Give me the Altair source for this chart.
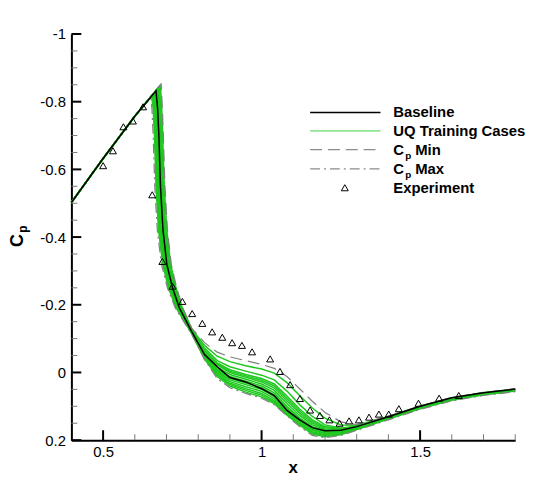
import altair as alt
import pandas as pd

# leading edge, shared by every case up to its suction peak
LE_X = [0.40, 0.50, 0.60]
LE_Y = [-0.502, -0.632, -0.757]

# shock: x of each case at these Cp levels
SHOCK_Y = [-0.78, -0.70, -0.55, -0.42, -0.32, -0.25, -0.19]
# recovery: Cp of each case at these x stations
POST_X = [0.78, 0.82, 0.86, 0.90, 0.95, 1.00, 1.04, 1.08, 1.12, 1.16, 1.20,
          1.25, 1.30, 1.40, 1.50, 1.60, 1.70, 1.80]

BASE_PEAK = (0.667, -0.832)
BASE_SHOCK_X = [0.672, 0.676, 0.681, 0.689, 0.701, 0.719, 0.741]
BASE_POST_Y = [-0.120, -0.053, -0.017, 0.015, 0.028, 0.048, 0.068, 0.112, 0.140,
               0.163, 0.172, 0.171, 0.160, 0.131, 0.100, 0.075, 0.060, 0.049]

CPMIN_PEAK = (0.683, -0.852)
CPMIN_SHOCK_X = [0.687, 0.690, 0.695, 0.703, 0.715, 0.732, 0.752]
CPMIN_POST_Y = [-0.130, -0.088, -0.060, -0.046, -0.035, -0.024, -0.012, 0.012, 0.048,
                0.085, 0.118, 0.146, 0.154, 0.129, 0.099, 0.074, 0.059, 0.048]

CPMAX_PEAK = (0.650, -0.813)
CPMAX_SHOCK_X = [0.654, 0.658, 0.663, 0.671, 0.684, 0.703, 0.728]
CPMAX_POST_Y = [-0.112, -0.038, 0.018, 0.045, 0.062, 0.076, 0.095, 0.128, 0.160,
                0.186, 0.193, 0.186, 0.171, 0.140, 0.109, 0.084, 0.068, 0.057]

# UQ training cases
GREEN_PEAK_X = [0.681, 0.678, 0.675, 0.673, 0.671, 0.668, 0.664, 0.663, 0.661,
                0.659, 0.657, 0.655, 0.653]
GREEN_PEAK_Y = [-0.849, -0.846, -0.842, -0.840, -0.838, -0.834, -0.830, -0.828,
                -0.826, -0.824, -0.821, -0.819, -0.817]
GREEN_SHOCK_X = [
    [0.685, 0.688, 0.693, 0.701, 0.713, 0.730, 0.750],
    [0.682, 0.685, 0.690, 0.698, 0.710, 0.727, 0.748],
    [0.679, 0.682, 0.687, 0.695, 0.707, 0.724, 0.746],
    [0.677, 0.681, 0.686, 0.694, 0.706, 0.723, 0.745],
    [0.675, 0.679, 0.684, 0.692, 0.704, 0.722, 0.744],
    [0.672, 0.676, 0.681, 0.689, 0.701, 0.719, 0.742],
    [0.669, 0.673, 0.678, 0.686, 0.698, 0.716, 0.739],
    [0.668, 0.672, 0.677, 0.685, 0.697, 0.715, 0.738],
    [0.666, 0.670, 0.675, 0.683, 0.695, 0.713, 0.737],
    [0.664, 0.668, 0.673, 0.681, 0.693, 0.712, 0.736],
    [0.662, 0.666, 0.671, 0.679, 0.691, 0.710, 0.734],
    [0.660, 0.664, 0.669, 0.677, 0.690, 0.708, 0.733],
    [0.658, 0.662, 0.667, 0.675, 0.688, 0.706, 0.731],
]
GREEN_POST_Y = [
    [-0.128, -0.080, -0.048, -0.032, -0.020, -0.010, 0.002, 0.030, 0.068, 0.105, 0.135, 0.155, 0.156, 0.130, 0.100, 0.075, 0.060, 0.049],
    [-0.126, -0.072, -0.035, -0.017, -0.004, 0.008, 0.022, 0.055, 0.095, 0.130, 0.155, 0.164, 0.159, 0.131, 0.101, 0.076, 0.061, 0.050],
    [-0.124, -0.066, -0.028, -0.008, 0.006, 0.018, 0.034, 0.070, 0.108, 0.140, 0.160, 0.166, 0.160, 0.131, 0.101, 0.076, 0.061, 0.050],
    [-0.123, -0.063, -0.025, -0.004, 0.010, 0.023, 0.040, 0.077, 0.114, 0.145, 0.163, 0.167, 0.160, 0.131, 0.101, 0.076, 0.061, 0.050],
    [-0.122, -0.060, -0.022, 0.000, 0.014, 0.028, 0.046, 0.084, 0.120, 0.150, 0.166, 0.168, 0.161, 0.132, 0.102, 0.077, 0.062, 0.051],
    [-0.121, -0.055, -0.016, 0.006, 0.020, 0.034, 0.053, 0.092, 0.127, 0.155, 0.169, 0.170, 0.162, 0.132, 0.102, 0.077, 0.062, 0.051],
    [-0.120, -0.050, -0.010, 0.012, 0.026, 0.040, 0.060, 0.100, 0.134, 0.160, 0.172, 0.172, 0.163, 0.133, 0.103, 0.078, 0.063, 0.052],
    [-0.119, -0.048, -0.007, 0.017, 0.031, 0.045, 0.066, 0.105, 0.138, 0.164, 0.175, 0.174, 0.164, 0.133, 0.103, 0.078, 0.063, 0.052],
    [-0.118, -0.046, -0.004, 0.022, 0.036, 0.050, 0.072, 0.110, 0.143, 0.168, 0.178, 0.176, 0.165, 0.134, 0.104, 0.079, 0.064, 0.053],
    [-0.117, -0.044, 0.000, 0.027, 0.042, 0.056, 0.078, 0.115, 0.146, 0.171, 0.181, 0.178, 0.166, 0.135, 0.104, 0.079, 0.064, 0.053],
    [-0.116, -0.043, 0.004, 0.032, 0.048, 0.062, 0.084, 0.120, 0.150, 0.175, 0.184, 0.180, 0.167, 0.136, 0.105, 0.080, 0.065, 0.054],
    [-0.115, -0.041, 0.008, 0.036, 0.053, 0.067, 0.088, 0.123, 0.153, 0.178, 0.187, 0.182, 0.168, 0.137, 0.106, 0.081, 0.065, 0.054],
    [-0.114, -0.040, 0.012, 0.040, 0.058, 0.072, 0.092, 0.126, 0.156, 0.182, 0.190, 0.184, 0.169, 0.138, 0.107, 0.082, 0.066, 0.055],
]

EXP_X = [0.500, 0.531, 0.564, 0.594, 0.626, 0.655, 0.687, 0.719, 0.750, 0.781, 0.813,
         0.844, 0.876, 0.907, 0.938, 0.970, 1.027, 1.058, 1.090, 1.121, 1.153, 1.184,
         1.214, 1.246, 1.276, 1.307, 1.339, 1.370, 1.401, 1.433, 1.495, 1.560, 1.622]
EXP_Y = [-0.611, -0.655, -0.726, -0.743, -0.785, -0.525, -0.328, -0.255, -0.210, -0.174,
         -0.145, -0.120, -0.104, -0.088, -0.080, -0.061, -0.040, -0.003, 0.036, 0.077,
         0.111, 0.127, 0.140, 0.150, 0.143, 0.140, 0.132, 0.123, 0.123, 0.107, 0.091,
         0.076, 0.068]

X_MAJOR = [0.5, 1.0, 1.5]
X_MINOR = [0.6, 0.7, 0.8, 0.9, 1.1, 1.2, 1.3, 1.4, 1.6, 1.7, 1.8]
Y_MAJOR = [-1.0, -0.8, -0.6, -0.4, -0.2, 0.0, 0.2]
Y_MINOR = [-0.95, -0.9, -0.85, -0.75, -0.7, -0.65, -0.55, -0.5, -0.45, -0.35, -0.3,
           -0.25, -0.15, -0.1, -0.05, 0.05, 0.1, 0.15]

W, H = 448, 410
FONT = 'Liberation Sans'


def case_frame(name, peak, shock_x, post_y):
    xs = LE_X + [peak[0]] + shock_x + POST_X
    ys = LE_Y + [peak[1]] + SHOCK_Y + post_y
    return pd.DataFrame({'case': name, 'i': range(len(xs)), 'x': xs, 'y': ys})


base_df = case_frame('Baseline', BASE_PEAK, BASE_SHOCK_X, BASE_POST_Y)
cpmin_df = case_frame('Cp Min', CPMIN_PEAK, CPMIN_SHOCK_X, CPMIN_POST_Y)
cpmax_df = case_frame('Cp Max', CPMAX_PEAK, CPMAX_SHOCK_X, CPMAX_POST_Y)
green_df = pd.concat([case_frame(f'uq{k}', (GREEN_PEAK_X[k], GREEN_PEAK_Y[k]),
                                 GREEN_SHOCK_X[k], GREEN_POST_Y[k])
                      for k in range(len(GREEN_PEAK_X))])
exp_df = pd.DataFrame({'x': EXP_X, 'y': EXP_Y})

xs = alt.Scale(domain=[0.4, 1.8], nice=False, zero=False)
ys = alt.Scale(domain=[-1.0, 0.2], reverse=True, nice=False, zero=False)
X = alt.X('x:Q', scale=xs, axis=None)
Y = alt.Y('y:Q', scale=ys, axis=None)

# axes carry the labels and the thick axis lines; ticks are drawn inward below
x_main = alt.Axis(orient='bottom', values=X_MAJOR, labelExpr="'' + datum.value",
                  ticks=False, tickSize=0, grid=False, domainColor='black', domainWidth=2,
                  labelFont=FONT, labelFontSize=15, labelColor='black', labelPadding=5,
                  labelFlush=False, title=None)
y_main = alt.Axis(orient='left', values=Y_MAJOR, labelExpr="'' + datum.value",
                  ticks=False, tickSize=0, grid=False, domainColor='black', domainWidth=2,
                  labelFont=FONT, labelFontSize=15, labelColor='black', labelPadding=6,
                  title=None)

greens = alt.Chart(green_df).mark_line(color='#1fc81f', strokeWidth=1.5).encode(
    x=X, y=Y, detail='case:N', order='i:Q')

cpmax = alt.Chart(cpmax_df).mark_line(color='#7f7f7f', strokeWidth=1.2,
                                      strokeDash=[10, 4, 2, 4]).encode(
    x=X, y=Y, order='i:Q')

cpmin = alt.Chart(cpmin_df).mark_line(color='#7f7f7f', strokeWidth=1.2,
                                      strokeDash=[12, 6]).encode(
    x=X, y=Y, order='i:Q')

base = alt.Chart(base_df).mark_line(color='black', strokeWidth=1.5).encode(
    x=alt.X('x:Q', scale=xs, axis=x_main),
    y=alt.Y('y:Q', scale=ys, axis=y_main),
    order='i:Q')

exp = alt.Chart(exp_df).mark_point(shape='triangle-up', filled=False, color='black',
                                   size=50, strokeWidth=1, opacity=1).encode(x=X, y=Y)


def x_ticks(vals, length, width, color):
    return alt.Chart(pd.DataFrame({'x': vals})).mark_rule(
        color=color, strokeWidth=width).encode(
        x=X, y=alt.value(H), y2=alt.value(H - length))


def y_ticks(vals, length, width, color):
    return alt.Chart(pd.DataFrame({'y': vals})).mark_rule(
        color=color, strokeWidth=width).encode(
        y=Y, x=alt.value(0), x2=alt.value(length))


ticks = [x_ticks(X_MAJOR, 10, 2, 'black'), y_ticks(Y_MAJOR, 10, 2, 'black'),
         x_ticks(X_MINOR, 6, 1, '#777'), y_ticks(Y_MINOR, 6, 1, '#777')]


def leg_line(row, color, width, dash=None):
    kw = dict(color=color, strokeWidth=width)
    if dash:
        kw['strokeDash'] = dash
    return alt.Chart().mark_rule(**kw).encode(
        x=alt.value(241), x2=alt.value(312), y=alt.value(row))


def label(txt, x, y, size=15, **kw):
    opts = dict(text=txt, font=FONT, fontSize=size, fontWeight='bold', color='black',
                align='left', baseline='middle')
    opts.update(kw)
    return alt.Chart().mark_text(**opts).encode(x=alt.value(x), y=alt.value(y))


rows = [79.2, 97.8, 116.8, 136.2, 155.2]
legend = [
    leg_line(rows[0], 'black', 1.5),
    leg_line(rows[1], '#66dd66', 1.2),
    leg_line(rows[2], '#8c8c8c', 1.3, [12, 6]),
    leg_line(rows[3], '#8c8c8c', 1.2, [10, 4, 2, 4]),
    alt.Chart().mark_point(shape='triangle-up', filled=False, color='black', size=50,
                           strokeWidth=1, opacity=1).encode(
        x=alt.value(276), y=alt.value(rows[4])),
    label('Baseline', 325, rows[0]),
    label('UQ Training Cases', 325, rows[1]),
    label('C', 325, rows[2]), label('p', 337, rows[2] + 6, size=10),
    label('Min', 347, rows[2]),
    label('C', 325, rows[3]), label('p', 337, rows[3] + 6, size=10),
    label('Max', 347, rows[3]),
    label('Experiment', 325, rows[4]),
]

titles = [
    label('x', 224, 443.5, size=17, baseline='alphabetic', align='center'),
    label('C', -49, 208.5, size=18, angle=270, baseline='alphabetic', align='center'),
    label('p', -45, 197, size=12, angle=270, baseline='alphabetic', align='center'),
]

chart = alt.layer(greens, cpmax, cpmin, base, exp, *ticks, *legend, *titles).resolve_axis(
    x='independent', y='independent'
).properties(
    width=W, height=H,
    autosize=alt.AutoSizeParams(type='none'),
    padding={'left': 64, 'top': 24, 'right': 20, 'bottom': 40},
).configure_view(strokeWidth=0)

chart.save('out.html', embed_options={'renderer': 'svg', 'actions': False})
